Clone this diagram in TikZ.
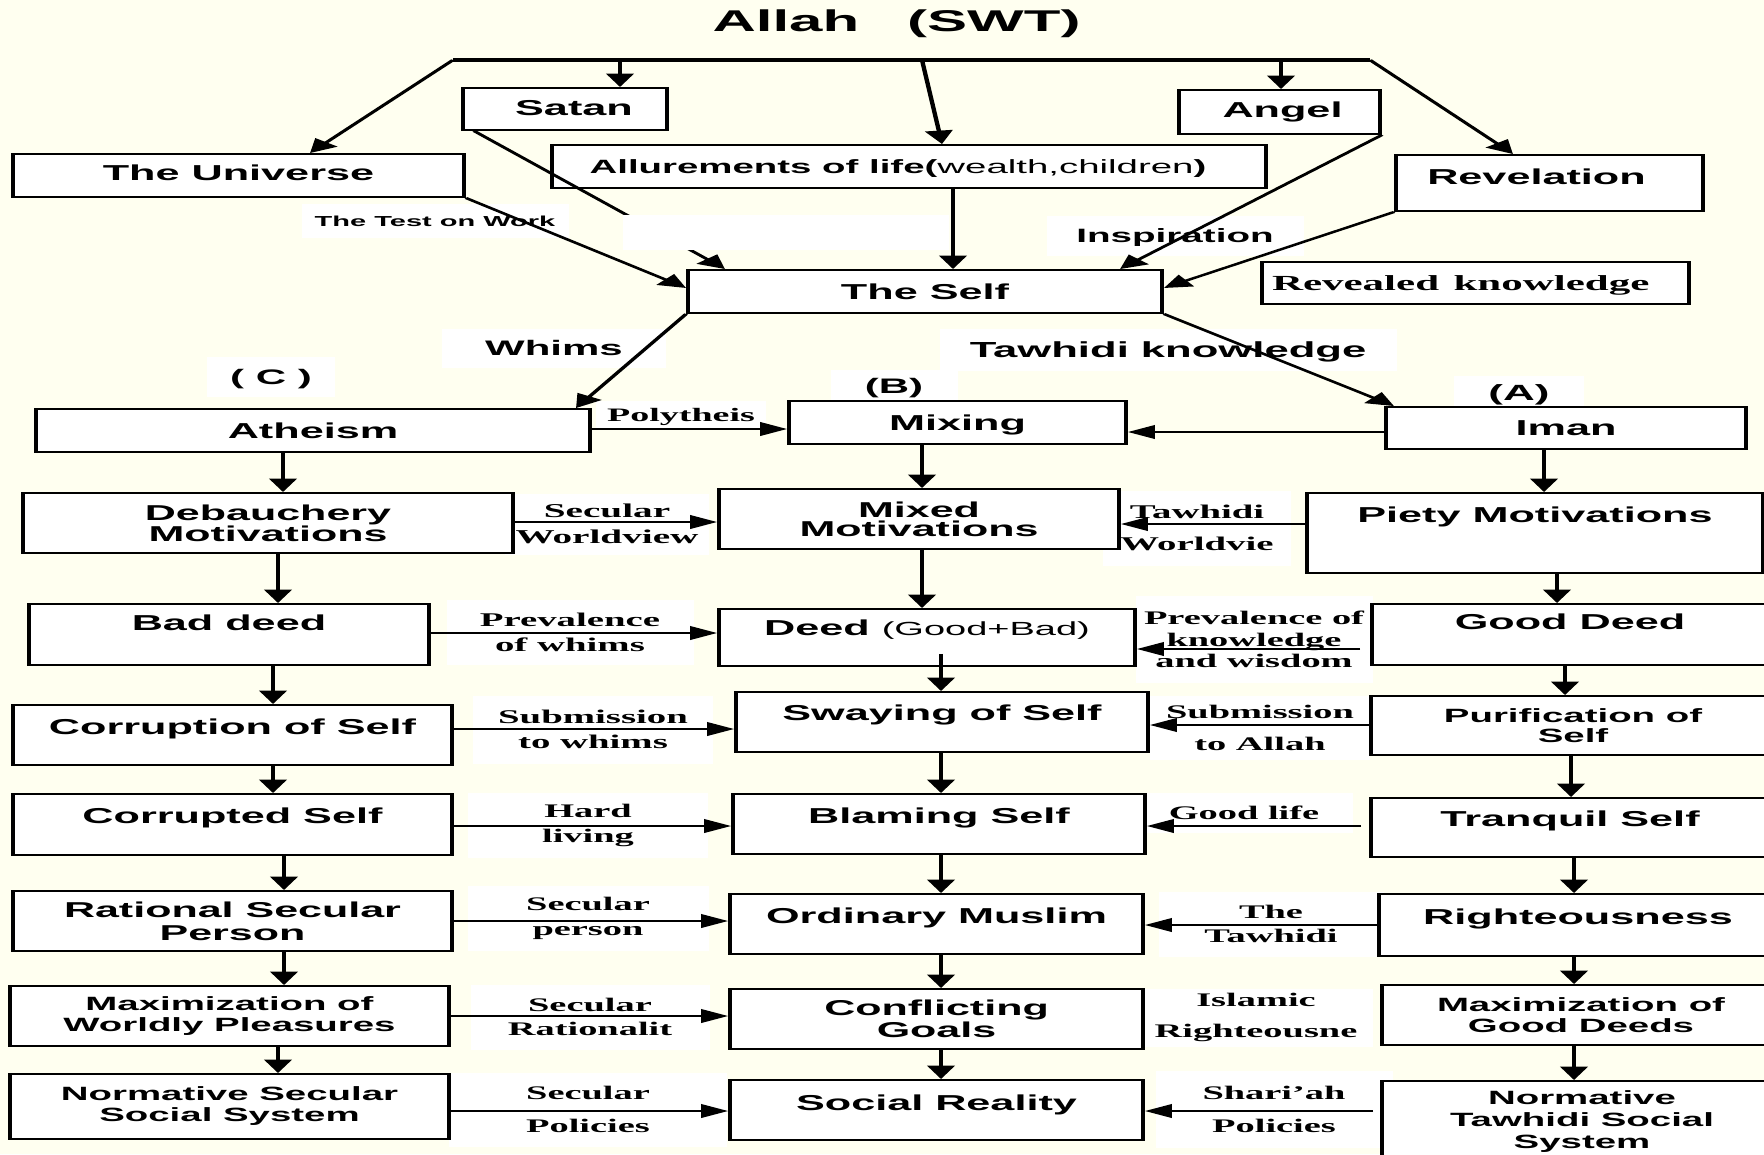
\documentclass[tikz,border=0pt]{standalone}
\usepackage{fontspec}
\usetikzlibrary{arrows.meta,calc}
\newfontfamily\sansfam{Liberation Sans}
\newfontfamily\seriffam{Liberation Serif}
\newcommand\SBf[2]{\sansfam\bfseries\fontsize{#1}{#2}\selectfont}
\newcommand\TBf[2]{\seriffam\bfseries\fontsize{#1}{#2}\selectfont}
\definecolor{paper}{RGB}{255,255,240}
\tikzset{
  wh/.style 2 args={minimum width=#1pt, minimum height=#2pt},
  tt/.style 2 args={text height=#1pt, text depth=#2pt},
  box/.style={draw, line width=1.9pt, fill=white, inner sep=0pt, align=center, font=\SBf{21.6}{21}},
  lbl/.style={fill=white, inner sep=0pt, align=center},
  arw/.style={line width=2.2pt, -{Triangle[length=13.5pt,width=13.5pt]}},
}
\begin{document}
\begin{tikzpicture}
\useasboundingbox (0pt,0pt) rectangle (1764pt,-1154pt);
\fill[paper] (0pt,0pt) rectangle (1764pt,-1154pt);
\clip (0pt,0pt) rectangle (1764pt,-1154pt);
\begin{scope}[transform canvas={xscale=2}, x=0.5pt, y=-1pt]

% title
\node[font=\SBf{30}{30}, inner sep=0pt, tt={21.5}{0}] (title) at (896.5,20.5) {Allah\hspace{24pt}(SWT)};

% connector labels (white patches)
\node[lbl, font=\SBf{14.5}{14.5}, wh={133.5}{34}, tt={10.4}{0}] (ltest) at (435,221) {The Test on Work};
\node[lbl, font=\SBf{19.3}{19.3}, wh={128.5}{40}, tt={13.8}{0}] (linsp) at (1175,236) {Inspiration};
\node[lbl, font=\SBf{21}{21}, wh={112}{39}, tt={15}{0}] (lwhims) at (554,348) {Whims};
\node[lbl, font=\SBf{21}{21}, wh={64}{40}, tt={15}{0}] (lc) at (271,377) {( C )};
\node[lbl, font=\SBf{21.8}{21.8}, wh={228.5}{42}, tt={15.6}{0}] (ltk) at (1168,350) {Tawhidi knowledge};
\node[lbl, font=\SBf{21}{21}, wh={63.5}{32}, tt={15}{0}] (lb) at (894,386) {(B)};
\node[lbl, font=\SBf{22}{22}, wh={65}{35}, tt={15.8}{0}] (la) at (1519,393) {(A)};
\node[lbl, font=\TBf{19}{19}, wh={85}{28}, tt={12.6}{0}] (lpoly) at (681,415) {Polytheis};
\node[lbl, font=\TBf{19.6}{26}, wh={102}{61}] (lsw) at (607,524) {Secular\\Worldview};
\node[lbl, font=\TBf{19.4}{32}, wh={94}{75}] (ltw) at (1197,528) {Tawhidi\\Worldvie};
\node[lbl, font=\TBf{19.4}{25}, wh={123.5}{65}] (lpw) at (570,632.5) {Prevalence\\of whims};
\node[lbl, font=\TBf{19.2}{21.5}, wh={118.5}{87}] (lpk) at (1254,639.5) {Prevalence of\\knowledge\\and wisdom};
\node[lbl, font=\TBf{19.4}{25}, wh={120}{68}] (lsubw) at (593,729.5) {Submission\\to whims};
\node[lbl, font=\TBf{19.2}{32}, wh={110}{64}] (lsuba) at (1260,728) {Submission\\to Allah};
\node[lbl, font=\TBf{19.2}{25}, wh={120}{65}] (lhard) at (588,825.5) {Hard\\living};
\node[lbl, font=\TBf{19.2}{19}, wh={109}{40}, tt={12.7}{0}] (lgood) at (1244,813) {Good life};
\node[lbl, font=\TBf{19.2}{25}, wh={120.5}{65}] (lsp) at (588,918.5) {Secular\\person};
\node[lbl, font=\TBf{19.2}{24}, wh={112.5}{65}] (ltt) at (1271,924) {The\\Tawhidi};
\node[lbl, font=\TBf{19.2}{24}, wh={119.5}{65}] (lsr) at (590,1017) {Secular\\Rationalit};
\node[lbl, font=\TBf{19.2}{31}, wh={117}{58}] (lir) at (1256,1017.5) {Islamic\\Righteousne};
\node[lbl, font=\TBf{19.2}{33}, wh={139}{74}] (lspol) at (588,1109.5) {Secular\\Policies};
\node[lbl, font=\TBf{19.2}{33}, wh={118.5}{77}] (lshp) at (1274,1109.5) {Shari’ah\\Policies};

% boxes
\node[box, wh={102}{42}, tt={15.5}{2}] (satan) at (565,109) {\hspace*{9pt}Satan};
\node[box, wh={225.5}{43}, tt={15.5}{5}] (univ) at (238.5,175.5) {The Universe};
\node[box, font=\SBf{19.2}{19}, wh={357}{43}, tt={13.7}{0}] (allure) at (909,166.5) {Allurements of life({\mdseries wealth,children})\hspace*{11pt}};
\node[box, wh={100.5}{44}, tt={15.5}{4}] (angel) at (1279.5,112) {\hspace*{3pt}Angel};
\node[box, wh={153.5}{56}, tt={15.5}{12}] (rev) at (1549.5,183) {Revelation\hspace*{13pt}};
\node[box, font=\TBf{21.5}{21.5}, wh={213.5}{42}, text width=203.5pt, align=left, inner xsep=5pt, tt={14.2}{0}] (revk) at (1475.5,283) {Revealed knowledge};
\node[box, wh={237}{43}, tt={15.5}{0}] (self) at (925,291.5) {The Self};
\node[box, wh={277}{43}, tt={15.5}{0}] (athe) at (313,430.5) {Atheism};
\node[box, wh={168.5}{43}, tt={15.5}{0}] (mix) at (957.5,422.5) {Mixing};
\node[box, wh={180}{42}, tt={15.5}{0}] (iman) at (1566,428) {Iman};
\node[box, font=\SBf{21.5}{19}, wh={245}{60}] (deb) at (268,523) {Debauchery\\Motivations};
\node[box, font=\SBf{21.5}{19}, wh={200}{60}] (mixm) at (919,519) {Mixed\\Motivations};
\node[box, wh={228}{80}, tt={15.5}{36}] (piety) at (1535,533) {Piety Motivations};
\node[box, wh={200}{61}, tt={15.5}{23}] (bad) at (229,634.5) {Bad deed};
\node[box, wh={208}{57}, tt={15.5}{19}] (deed) at (927,637.5) {Deed {\mdseries\fontsize{19}{19}\selectfont(Good+Bad)}};
\node[box, wh={198}{61}, tt={15.5}{25}] (good) at (1570,634.5) {Good Deed};
\node[box, wh={219.5}{60}, tt={15.5}{16}] (corr) at (232.5,735) {Corruption of Self};
\node[box, wh={206}{60}, tt={15.5}{18}] (sway) at (942,722) {Swaying of Self};
\node[box, font=\SBf{19.2}{20}, wh={202}{59}] (puri) at (1573,725.5) {Purification of\\Self};
\node[box, wh={219.5}{61}, tt={15.5}{17}] (crpt) at (232.5,824.5) {Corrupted Self};
\node[box, wh={206}{60}, tt={15.5}{16}] (blame) at (939,824) {Blaming Self};
\node[box, wh={199}{59}, tt={15.5}{17}] (tranq) at (1570,827.5) {Tranquil Self};
\node[box, font=\SBf{21.5}{23}, wh={219.5}{60}] (ratl) at (232.5,921) {Rational Secular\\Person};
\node[box, wh={206.5}{60}, tt={15.5}{16}] (ordm) at (936.5,924) {Ordinary Muslim};
\node[box, wh={199}{62}, tt={15.5}{16}] (right) at (1578,925) {Righteousness};
\node[box, font=\SBf{19.2}{21}, wh={219.5}{60}] (maxw) at (229.5,1016) {Maximization of\\Worldly Pleasures};
\node[box, font=\SBf{21.5}{22}, wh={206.5}{60}] (confl) at (936.5,1019) {Conflicting\\Goals};
\node[box, font=\SBf{19.2}{21}, wh={199}{60}] (maxg) at (1581,1015) {Maximization of\\Good Deeds};
\node[box, font=\SBf{19.2}{21}, wh={219.5}{65}] (nsec) at (229.5,1106.5) {Normative Secular\\Social System};
\node[box, wh={206.5}{60}, tt={15.5}{14}] (socr) at (936.5,1110) {Social Reality};
\node[box, font=\SBf{19.2}{22}, wh={200}{82}] (ntaw) at (1582,1122) {Normative\\Tawhidi Social\\System};

% top bar and its branches
\coordinate (barL) at (453,60);
\coordinate (barR) at (1370,60);
\draw[line width=3.8pt] (barL) -- (barR);
\draw[arw] (barL) -- (univ.north -| 310,0);
\draw[arw] (barL -| 620,0) -- (satan.north -| 620,0);
\draw[arw] (barL -| 922,0) -- (allure.north -| 942,0);
\draw[arw] (barL -| 1281,0) -- (angel.north -| 1281,0);
\draw[arw] (barR) -- (rev.north -| 1513,0);

% into and out of the self
\draw[arw] (univ.south east) -- (self.west |- 0,288);
\draw[arw] ($(satan.south west)+(13,0)$) -- (self.north -| 725,0);
\draw[arw] (allure.south -| 953,0) -- (self.north -| 953,0);
\draw[arw] (angel.south east) -- (self.north -| 1120,0);
\draw[arw] (rev.south west) -- (self.east |- 0,288);
\draw[arw] (self.south west) -- (athe.north -| 576,0);
\draw[arw] (self.south east) -- (iman.north -| 1394,0);

% horizontal links toward the middle column
\draw[arw] (athe.east |- 0,429) -- (mix.west |- 0,429);
\draw[arw] (iman.west |- 0,432) -- (mix.east |- 0,432);
\draw[arw] (deb.east |- 0,522) -- (mixm.west |- 0,522);
\draw[arw] (piety.west |- 0,524) -- (mixm.east |- 0,524);
\draw[arw] (bad.east |- 0,633) -- (deed.west |- 0,633);
\draw[arw] ($(good.west |- 0,649)+(-10,0)$) -- (deed.east |- 0,649);
\draw[arw] (corr.east |- 0,729) -- (sway.west |- 0,729);
\draw[arw] (puri.west |- 0,725) -- (sway.east |- 0,725);
\draw[arw] (crpt.east |- 0,826) -- (blame.west |- 0,826);
\draw[arw] ($(tranq.west |- 0,826)+(-8,0)$) -- (blame.east |- 0,826);
\draw[arw] (ratl.east |- 0,921) -- (ordm.west |- 0,921);
\draw[arw] (right.west |- 0,925) -- (ordm.east |- 0,925);
\draw[arw] (maxw.east |- 0,1016) -- (confl.west |- 0,1016);
\draw[arw] (nsec.east |- 0,1111) -- (socr.west |- 0,1111);
\draw[arw] ($(ntaw.west |- 0,1111)+(-7,0)$) -- (socr.east |- 0,1111);

% left column
\draw[arw] (athe.south -| 283,0) -- (deb.north -| 283,0);
\draw[arw] (deb.south -| 278,0) -- (bad.north -| 278,0);
\draw[arw] (bad.south -| 273,0) -- (corr.north -| 273,0);
\draw[arw] (corr.south -| 273,0) -- (crpt.north -| 273,0);
\draw[arw] (crpt.south -| 284,0) -- (ratl.north -| 284,0);
\draw[arw] (ratl.south -| 284,0) -- (maxw.north -| 284,0);
\draw[arw] (maxw.south -| 278,0) -- (nsec.north -| 278,0);

% middle column
\draw[arw] (mix.south -| 922,0) -- (mixm.north -| 922,0);
\draw[arw] (mixm.south -| 922,0) -- (deed.north -| 922,0);
\draw[arw] ($(deed.south -| 941,0)+(0,-13)$) -- (sway.north -| 941,0);
\draw[arw] (sway.south -| 941,0) -- (blame.north -| 941,0);
\draw[arw] (blame.south -| 941,0) -- (ordm.north -| 941,0);
\draw[arw] (ordm.south -| 941,0) -- (confl.north -| 941,0);
\draw[arw] (confl.south -| 941,0) -- (socr.north -| 941,0);

% right column
\draw[arw] (iman.south -| 1544,0) -- (piety.north -| 1544,0);
\draw[arw] (piety.south -| 1557,0) -- (good.north -| 1557,0);
\draw[arw] (good.south -| 1565,0) -- (puri.north -| 1565,0);
\draw[arw] (puri.south -| 1571,0) -- (tranq.north -| 1571,0);
\draw[arw] (tranq.south -| 1574,0) -- (right.north -| 1574,0);
\draw[arw] (right.south -| 1574,0) -- (maxg.north -| 1574,0);
\draw[arw] (maxg.south -| 1574,0) -- (ntaw.north -| 1574,0);

% blank white patch over the satan connector
\node[fill=white, inner sep=0pt, wh={163}{35}] (gap) at (786,232.5) {};
\end{scope}
\end{tikzpicture}
\end{document}
